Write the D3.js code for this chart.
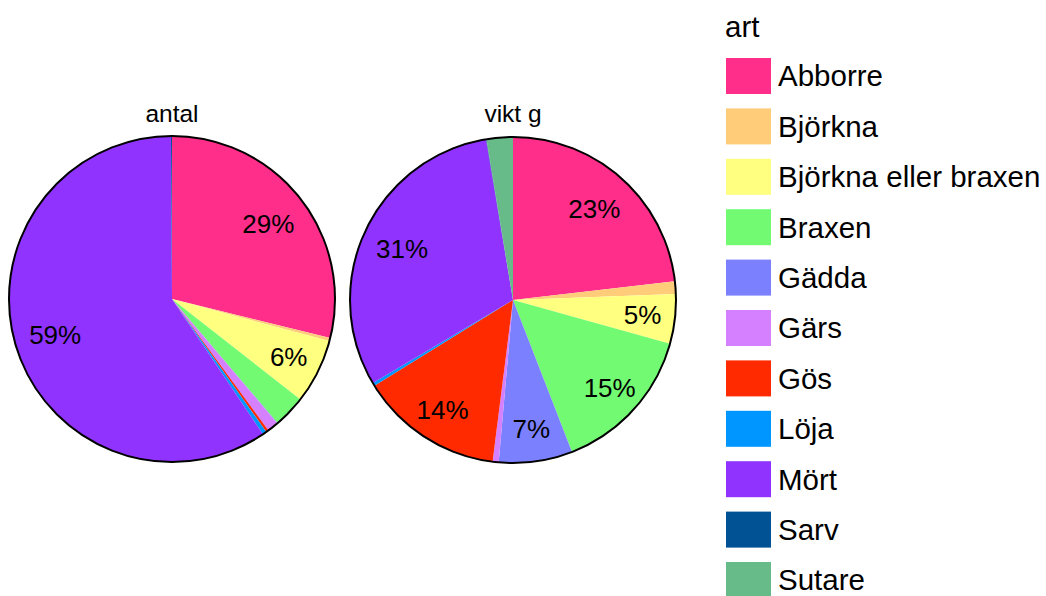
<!DOCTYPE html>
<html>
<head>
<meta charset="utf-8">
<script src="https://cdn.jsdelivr.net/npm/d3@7"></script>
<style>
  body { margin: 0; background: #fff; }
  svg { font-family: "Liberation Sans", Arial, Helvetica, sans-serif; }
</style>
</head>
<body>
<svg id="chart" width="1046" height="596"></svg>
<script>
// species (legend order = slice order, clockwise from 12 o'clock)
const species = ['Abborre','Björkna','Björkna eller braxen','Braxen','Gädda','Gärs','Gös','Löja','Mört','Sarv','Sutare']
// share per species
const antal = [28.8, 0.3, 6.4, 3.2, 0.05, 1.1, 0.25, 0.4, 59.2, 0.1, 0]
const viktG = [23.2, 1.25, 4.9, 14.8, 7.3, 0.6, 14.2, 0.3, 30.9, 0.05, 2.6]
const pieTitles = ['antal','vikt g']
const legendTitle = 'art'

const colors = ['#ff2e8b','#ffcc7a','#ffff80','#73fa73','#7b80ff','#d580ff','#ff2a00','#0096ff','#9133ff','#005294','#66bb88']

const svg = d3.select('#chart')
const color = d3.scaleOrdinal().domain(species).range(colors)
const fmt = d3.format('.0%')

const pie = d3.pie().sort(null).value(d => d.v)
const R = 163
const arc = d3.arc().innerRadius(0).outerRadius(R)

// label spot: big slices a bit further in, thin ones pushed to the rim
function labelPos(d){
    const a = (d.startAngle + d.endAngle)/2
    const r = (d.endAngle - d.startAngle) > 1.2 ? 0.75*R : 0.8*R
    return [r*Math.sin(a), -r*Math.cos(a)]
}

function drawPie(values, title, cx, cy){
    const total = d3.sum(values)
    const data = species.map((s,i)=>({s, v: values[i]}))
    const g = svg.append('g').attr('transform', `translate(${cx},${cy})`)

    g.selectAll('path.slice')
        .data(pie(data))
        .join('path')
        .attr('class','slice')
        .attr('d', arc)
        .attr('fill', d => color(d.data.s))

    // outline
    g.append('circle')
        .attr('r', R)
        .attr('fill','none')
        .attr('stroke','#000')
        .attr('stroke-width',2)

    // labels for bigger slices only
    g.selectAll('text.lbl')
        .data(pie(data).filter(d => d.data.v / total >= 0.045))
        .join('text')
        .attr('class','lbl')
        .attr('x', d => labelPos(d)[0])
        .attr('y', d => labelPos(d)[1])
        .attr('dy','0.35em')
        .attr('text-anchor','middle')
        .attr('font-size',26)
        .attr('fill','#000')
        .text(d => fmt(d.data.v / total))

    svg.append('text')
        .attr('x', cx)
        .attr('y', 122)
        .attr('text-anchor','middle')
        .attr('font-size',24.5)
        .attr('fill','#000')
        .text(title)
}

drawPie(antal, pieTitles[0], 172, 299)
drawPie(viktG, pieTitles[1], 513, 300)

// legend
const lg = svg.append('g').attr('transform','translate(725,0)')
lg.append('text')
    .attr('x',0)
    .attr('y',37)
    .attr('font-size',29.5)
    .attr('fill','#000')
    .text(legendTitle)

const rowY = d3.scalePoint().domain(species).range([76, 580])

const items = lg.selectAll('g.item')
    .data(species)
    .join('g')
    .attr('class','item')
    .attr('transform', d => `translate(0,${rowY(d)})`)

items.append('rect')
    .attr('x',1)
    .attr('y',-18)
    .attr('width',45)
    .attr('height',36)
    .attr('fill', d => color(d))

items.append('text')
    .attr('x',53)
    .attr('y',0)
    .attr('dy','0.35em')
    .attr('font-size',29.5)
    .attr('fill','#000')
    .text(d => d)
</script>
</body>
</html>
